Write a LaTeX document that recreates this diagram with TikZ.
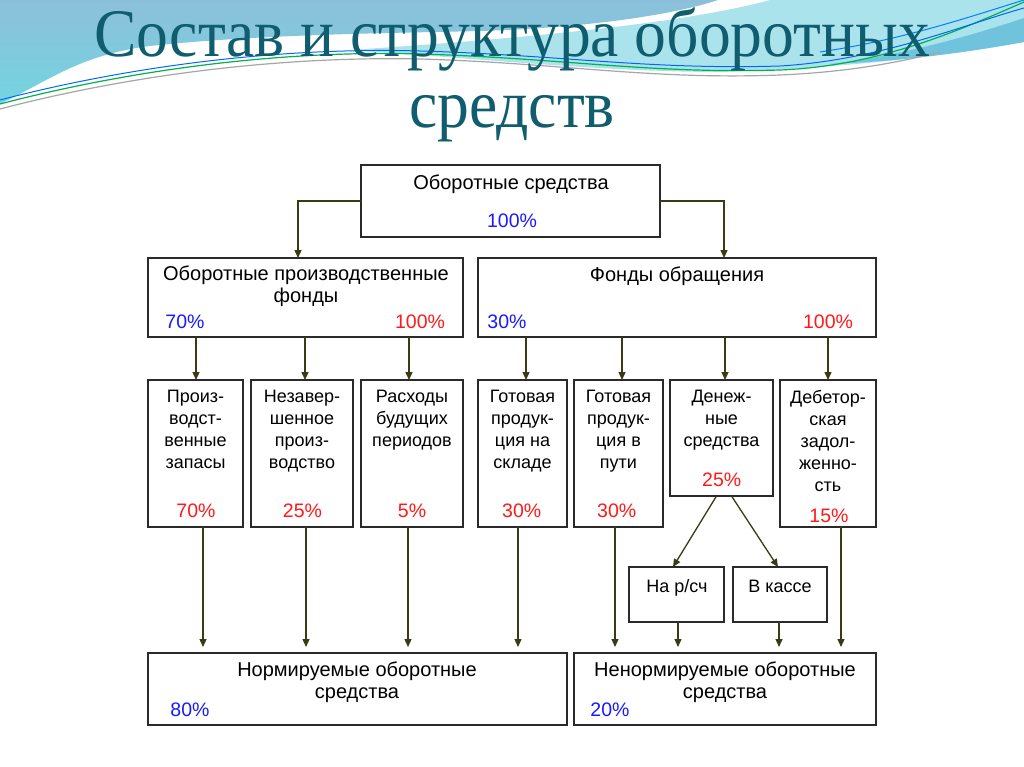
\documentclass[tikz,border=0pt]{standalone}
\usepackage{fontspec}
\setmainfont{Liberation Sans}
\newfontfamily\titlefont{Liberation Serif}
\usetikzlibrary{arrows.meta,calc}
\definecolor{arrowc}{HTML}{3A3A14}
\definecolor{titlec}{HTML}{0F5D6E}
\definecolor{pblue}{HTML}{1A1AFF}
\definecolor{pred}{HTML}{FF1A1A}
\definecolor{boxc}{HTML}{2A2A2A}
\definecolor{steelb}{HTML}{8CC0DA}
\definecolor{cyanb}{HTML}{74D4E0}
\definecolor{aquab}{HTML}{ABE3EC}
\definecolor{midb}{HTML}{62BCDA}
\begin{document}
\begin{tikzpicture}[x=1pt,y=-1pt,
  box/.style={draw=boxc,line width=1.3pt,fill=white,anchor=north west,inner sep=0pt,outer sep=0pt},
  conn/.style={draw=arrowc,line width=1.3pt,-{Triangle[length=8pt,width=7pt]}},
  bigtxt/.style={font=\fontsize{20}{22}\selectfont,inner sep=0pt,align=center},
  smalltxt/.style={font=\fontsize{18}{22}\selectfont,inner sep=0pt,align=center,anchor=north},
  pct/.style={font=\fontsize{19.5}{22}\selectfont,inner sep=0pt,anchor=base},
  titletxt/.style={font=\titlefont\fontsize{68}{68}\selectfont,text=titlec,inner sep=0pt,anchor=base}
]
\useasboundingbox (0,0) rectangle (1024,767);
\fill[white] (0,0) rectangle (1024,767);
% background decoration
\shade[top color=steelb,bottom color=cyanb] (0,0) -- (718,0) .. controls (670,16) and (580,28) .. (480,31) .. controls (400,33) and (260,34) .. (150,46) .. controls (80,55) and (50,80) .. (0,104) -- cycle;
\fill[aquab] (770,0) -- (1024,0) -- (1024,42) .. controls (950,55) and (850,68) .. (720,72) .. controls (600,72) and (450,56) .. (350,50) .. controls (500,40) and (680,25) .. (770,0) -- cycle;
\fill[midb,opacity=0.8] (830,64) .. controls (900,56) and (970,36) .. (1024,18) -- (1024,42) .. controls (960,54) and (890,62) .. (830,64) -- cycle;
\draw[gray!70,line width=1.2pt] (0,109) .. controls (130,75) and (280,56) .. (420,59) .. controls (560,63) and (650,80) .. (780,75) .. controls (850,72) and (900,62) .. (940,52);
\draw[teal!60!green,line width=1.2pt] (0,104) .. controls (130,70) and (280,50) .. (420,54) .. controls (560,58) and (650,74) .. (780,70) .. controls (880,66) and (960,30) .. (1024,2);
\draw[blue!60!cyan,line width=1pt] (0,100) .. controls (130,66) and (280,47) .. (420,51) .. controls (560,55) and (650,70) .. (780,66) .. controls (880,60) and (960,26) .. (1024,8);
\draw[blue!50!cyan,line width=1pt] (820,52) .. controls (900,40) and (960,20) .. (1024,0);
% title
\node[titletxt] (title1) at (512,57) {\scalebox{0.935}[1]{Состав и структура оборотных}};
\node[titletxt] (title2) at (512,128) {\scalebox{0.935}[1]{средств}};
% boxes
\node[box,minimum width=299pt,minimum height=72pt] (top) at (361,165) {};
\node[box,minimum width=315pt,minimum height=79pt] (l2a) at (148,258) {};
\node[box,minimum width=398pt,minimum height=79pt] (l2b) at (478,258) {};
\node[box,minimum width=95pt,minimum height=147pt] (b1) at (148,380) {};
\node[box,minimum width=102pt,minimum height=147pt] (b2) at (251,380) {};
\node[box,minimum width=102pt,minimum height=147pt] (b3) at (361,380) {};
\node[box,minimum width=89pt,minimum height=147pt] (b4) at (478,380) {};
\node[box,minimum width=89pt,minimum height=147pt] (b5) at (574,380) {};
\node[box,minimum width=103pt,minimum height=116pt] (b6) at (670,380) {};
\node[box,minimum width=96pt,minimum height=147pt] (b7) at (780,380) {};
\node[box,minimum width=95pt,minimum height=55pt] (s1) at (629,567) {};
\node[box,minimum width=94pt,minimum height=55pt] (s2) at (733,567) {};
\node[box,minimum width=419pt,minimum height=72pt] (n1) at (148,653) {};
\node[box,minimum width=302pt,minimum height=72pt] (n2) at (574,653) {};
% texts
\node[bigtxt,anchor=base] (ttop) at (511,190) {Оборотные средства};
\node[pct,text=pblue] (ptop) at (512,228) {100\%};
\node[bigtxt,anchor=north] (tl2a) at (306,266) {Оборотные производственные\\фонды};
\node[pct,text=pblue] (pl2a1) at (185,328) {70\%};
\node[pct,text=pred] (pl2a2) at (420,328) {100\%};
\node[bigtxt,anchor=base] (tl2b) at (677,281) {Фонды обращения};
\node[pct,text=pblue] (pl2b1) at (507,328) {30\%};
\node[pct,text=pred] (pl2b2) at (828,328) {100\%};
\node[smalltxt] (tb1) at (195.5,390) {Произ-\\водст-\\венные\\запасы};
\node[smalltxt] (tb2) at (302,390) {Незавер-\\шенное\\произ-\\водство};
\node[smalltxt] (tb3) at (412,390) {Расходы\\будущих\\периодов};
\node[smalltxt] (tb4) at (522.5,390) {Готовая\\продук-\\ция на\\складе};
\node[smalltxt] (tb5) at (618.5,390) {Готовая\\продук-\\ция в\\пути};
\node[smalltxt] (tb6) at (721.5,390) {Денеж-\\ные\\средства};
\node[smalltxt] (tb7) at (828,390) {Дебетор-\\ская\\задол-\\женно-\\сть};
\node[pct,text=pred] (pb1) at (196,517) {70\%};
\node[pct,text=pred] (pb2) at (302.5,517) {25\%};
\node[pct,text=pred] (pb3) at (412,517) {5\%};
\node[pct,text=pred] (pb4) at (521.7,517) {30\%};
\node[pct,text=pred] (pb5) at (616.7,517) {30\%};
\node[pct,text=pred] (pb6) at (721.7,486) {25\%};
\node[pct,text=pred] (pb7) at (829,522) {15\%};
\node[smalltxt,anchor=base] (ts1) at (677,592) {На р/сч};
\node[smalltxt,anchor=base] (ts2) at (780,592) {В кассе};
\node[bigtxt,anchor=north] (tn1) at (357,662) {Нормируемые оборотные\\средства};
\node[pct,text=pblue] (pn1) at (190,716) {80\%};
\node[bigtxt,anchor=north] (tn2) at (725,662) {Ненормируемые оборотные\\средства};
\node[pct,text=pblue] (pn2) at (610,716) {20\%};
% connector coordinates
\path (l2a.north) ++(-7.5,0) coordinate (l2ain);
\path (l2b.north) ++(47,0) coordinate (l2bin);
\path (b1.north) ++(0.5,0) coordinate (b1in);
\path (b2.north) ++(3,0) coordinate (b2in);
\path (b3.north) ++(-3,0) coordinate (b3in);
\path (b4.north) ++(3.5,0) coordinate (b4in);
\path (b5.north) ++(3.5,0) coordinate (b5in);
\path (b6.north) ++(3.5,0) coordinate (b6in);
\path (b7.north) ++(0,0) coordinate (b7in);
\path (b1.south) ++(7.5,0) coordinate (b1out);
\path (b2.south) ++(4,0) coordinate (b2out);
\path (b3.south) ++(-4,0) coordinate (b3out);
\path (b4.south) ++(-4.5,0) coordinate (b4out);
\path (b5.south) ++(-3.5,0) coordinate (b5out);
\path (b7.south) ++(13,0) coordinate (b7out);
\path (s1.south) ++(1.5,0) coordinate (s1out);
\path (s2.south) ++(-1,0) coordinate (s2out);
\path (b6.south) ++(-5,0) coordinate (b6outa);
\path (b6.south) ++(10,0) coordinate (b6outb);
\path (s1.north) ++(-3.5,0) coordinate (s1in);
\path (s2.north) ++(-2,0) coordinate (s2in);
% connectors
\draw[conn] (top.west) -| (l2ain);
\draw[conn] (top.east) -| (l2bin);
\foreach \b in {b1,b2,b3} \draw[conn] (l2a.south -| \b in) -- (\b in);
\foreach \b in {b4,b5,b6,b7} \draw[conn] (l2b.south -| \b in) -- (\b in);
\foreach \b in {b1,b2,b3,b4} \draw[conn,shorten >=6pt] (\b out) -- (\b out |- n1.north);
\foreach \b in {b5,s1,s2,b7} \draw[conn,shorten >=6pt] (\b out) -- (\b out |- n2.north);
\draw[conn] (b6outa) -- (s1in);
\draw[conn] (b6outb) -- (s2in);
\end{tikzpicture}
\end{document}
